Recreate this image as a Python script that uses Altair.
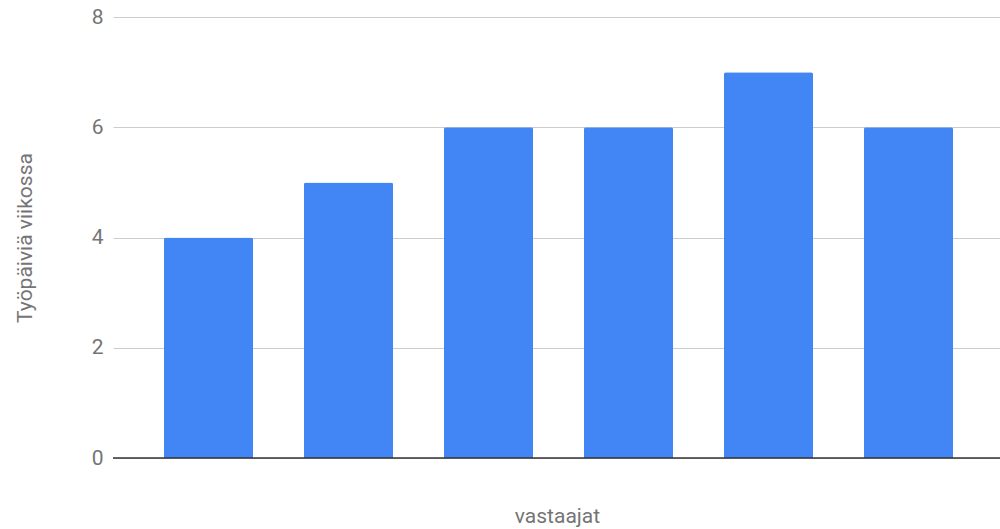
import altair as alt
import pandas as pd

# Respondents and the number of working days per week each reported
respondents = ["1", "2", "3", "4", "5", "6"]
workdays = [4, 5, 6, 6, 7, 6]
y_ticks = [0, 2, 4, 6, 8]

df = pd.DataFrame({"vastaaja": respondents, "paivat": workdays})

FONT = "Roboto"
GREY = "#757575"
SIZE = 21

bars = alt.Chart(df).mark_bar(
    color="#4285F4",
    cornerRadiusTopLeft=2,
    cornerRadiusTopRight=2,
).encode(
    x=alt.X(
        "vastaaja:N",
        sort=respondents,
        title="vastaajat",
        scale=alt.Scale(paddingInner=0.364, paddingOuter=0.35, align=0.5204),
        axis=alt.Axis(
            labels=False,
            ticks=False,
            domain=False,
            grid=False,
            titleFont=FONT,
            titleFontSize=SIZE,
            titleFontWeight="normal",
            titleColor=GREY,
            titlePadding=47,
            titleX=444,
        ),
    ),
    y=alt.Y(
        "paivat:Q",
        title="Työpäiviä viikossa",
        scale=alt.Scale(domain=[0, 8], nice=False),
        axis=alt.Axis(
            values=y_ticks,
            format="d",
            ticks=False,
            domain=False,
            labelFont=FONT,
            labelFontSize=SIZE,
            labelColor=GREY,
            labelPadding=10,
            gridColor="#cccccc",
            gridWidth=1,
            titleFont=FONT,
            titleFontSize=SIZE,
            titleFontWeight="normal",
            titleColor=GREY,
            titlePadding=56,
        ),
    ),
)

# Dark zero line along the bottom of the plot
baseline = alt.Chart(pd.DataFrame({"y": [0]})).mark_rule(
    color="#333333", strokeWidth=1.5
).encode(y="y:Q")

chart = (
    alt.layer(bars, baseline)
    .properties(
        width=887,
        height=441,
        padding={"left": 113, "top": 17, "right": 0, "bottom": 71},
        autosize=alt.AutoSizeParams(type="none"),
        background="white",
    )
    .configure_view(stroke=None, strokeWidth=0)
    .configure_axis(domain=False)
)

chart.save("out.html", embed_options={"renderer": "svg", "actions": False})
